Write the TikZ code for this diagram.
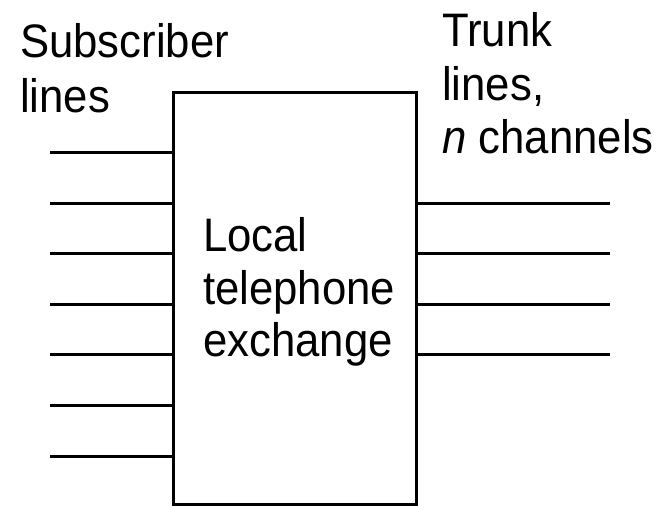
\documentclass[tikz,border=0pt]{standalone}
\usepackage{fontspec}
\setmainfont[FakeStretch=0.93]{Liberation Sans}
\begin{document}
\begin{tikzpicture}[x=1pt,y=-1pt,
  wire/.style={line width=3pt},
  lbl/.style={anchor=base west,inner sep=0pt,font=\fontsize{47}{52}\selectfont}]
\useasboundingbox (0,0) rectangle (658,507);
\node[draw,line width=3pt,minimum width=243pt,minimum height=412pt,inner sep=0pt] (ex) at (294.5,298) {};
\node[lbl] (sub1) at (20,57) {Subscriber};
\node[lbl] (sub2) at (20,112) {lines};
\node[lbl] (tr1) at (442,46) {Trunk};
\node[lbl] (tr2) at (442,100) {lines,};
\node[lbl] (tr3) at (442,153) {\textit{n} channels};
\node[lbl] (lc1) at (203,251) {Local};
\node[lbl] (lc2) at (203,304) {telephone};
\node[lbl] (lc3) at (203,356) {exchange};
\foreach \i/\y in {1/152,2/203,3/253,4/304,5/354,6/405,7/456}{
  \coordinate (s\i) at (50,\y);
  \draw[wire] (s\i) -- (s\i -| ex.west);
}
\foreach \i/\y in {1/203,2/253,3/304,4/354}{
  \coordinate (t\i) at (610,\y);
  \draw[wire] (t\i -| ex.east) -- (t\i);
}
\end{tikzpicture}
\end{document}
